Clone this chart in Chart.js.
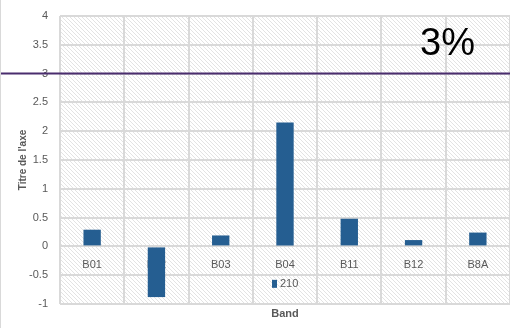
<!DOCTYPE html>
<html>
<head>
<meta charset="utf-8">
<script src="https://cdn.jsdelivr.net/npm/chart.js@4.4.1/dist/chart.umd.min.js"></script>
<style>
	html, body { margin: 0; padding: 0; background: #fff; }
	#wrap { position: relative; width: 510px; height: 328px; border-left: 1px solid #d9d9d9; box-sizing: border-box; }
</style>
</head>
<body>
<div id="wrap"><canvas id="bar-chart" width="509" height="328"></canvas></div>
<script>
// data
var bands = ['B01', 'B02', 'B03', 'B04', 'B11', 'B12', 'B8A'];
var values210 = [0.29, -0.88, 0.19, 2.15, 0.48, 0.11, 0.24];
var seriesName = '210';
var refValue = 3;
var refLabel = '3%';

var barColor = '#255e91';
var gridColor = '#d9d9d9';
var tickFont = { family: "'Liberation Sans Narrow', 'Liberation Sans', sans-serif", size: 11 };

// hatched plot background
function makeHatch() {
	var c = document.createElement('canvas');
	c.width = 4; c.height = 4;
	var g = c.getContext('2d');
	g.fillStyle = '#ffffff';
	g.fillRect(0, 0, 4, 4);
	g.strokeStyle = '#e3e3e3';
	g.lineWidth = 1;
	g.beginPath();
	g.moveTo(-1, -1); g.lineTo(5, 5);
	g.moveTo(-1, 3); g.lineTo(1, 5);
	g.moveTo(3, -1); g.lineTo(5, 1);
	g.stroke();
	return g.createPattern(c, 'repeat');
}

var hatchPlugin = {
	id: 'hatch',
	beforeDraw: function(chart) {
		var a = chart.chartArea, ctx = chart.ctx;
		ctx.save();
		ctx.fillStyle = makeHatch();
		ctx.fillRect(a.left, a.top, a.right - a.left, a.bottom - a.top);
		ctx.restore();
	}
};

var extrasPlugin = {
	id: 'extras',
	afterDraw: function(chart) {
		var ctx = chart.ctx, a = chart.chartArea;
		var y = chart.scales.y.getPixelForValue(refValue);
		ctx.save();
		// reference line across the whole picture
		ctx.strokeStyle = '#4a2d6e';
		ctx.lineWidth = 2;
		ctx.beginPath();
		ctx.moveTo(0, y);
		ctx.lineTo(chart.width, y);
		ctx.stroke();
		// label
		ctx.fillStyle = '#000';
		ctx.font = "38px 'Liberation Sans', Arial, sans-serif";
		ctx.textAlign = 'left';
		ctx.textBaseline = 'middle';
		ctx.fillText(refLabel, 419, 45);
		// legend inside plot
		var cx = (a.left + a.right) / 2;
		var ly = chart.scales.y.getPixelForValue(-0.65);
		ctx.fillStyle = barColor;
		ctx.fillRect(cx - 13, ly - 4, 5, 8);
		ctx.fillStyle = '#595959';
		ctx.font = "11px 'Liberation Sans Narrow', 'Liberation Sans', sans-serif";
		ctx.fillText(seriesName, cx - 5, ly);
		ctx.restore();
	}
};

new Chart(document.getElementById('bar-chart'), {
	type: 'bar',
	data: {
		labels: bands,
		datasets: [{
			label: seriesName,
			data: values210,
			backgroundColor: barColor,
			borderWidth: 0,
			categoryPercentage: 1,
			barPercentage: 0.27
		}]
	},
	options: {
		responsive: false,
		animation: false,
		layout: { padding: { left: 0, right: 0, top: 16, bottom: 0 } },
		plugins: {
			legend: { display: false },
			tooltip: { enabled: false }
		},
		scales: {
			x: {
				position: 'bottom',
				offset: true,
				grid: { color: gridColor, lineWidth: 2, offset: true, drawTicks: false },
				border: { display: false },
				ticks: { display: false },
				title: {
					display: true,
					text: 'Band',
					color: '#595959',
					font: { family: "'Liberation Sans Narrow', 'Liberation Sans', sans-serif", size: 11, weight: 'bold' },
					padding: { top: 4, bottom: 7 }
				},
				afterFit: function(s) { s.height = 24; s.paddingLeft = 0; s.paddingRight = 0; }
			},
			x2: {
				type: 'category',
				labels: bands,
				position: { y: 0 },
				offset: true,
				grid: { display: false, drawTicks: false },
				border: { display: false },
				ticks: { color: '#595959', font: tickFont, padding: 12, maxRotation: 0 },
				afterFit: function(s) {
					s.paddingTop = 0; s.paddingBottom = 0; s.paddingLeft = 0; s.paddingRight = 0;
				}
			},
			y: {
				min: -1,
				max: 4,
				ticks: {
					stepSize: 0.5,
					color: '#595959',
					font: tickFont,
					padding: 12,
					callback: function(v) { return String(v); }
				},
				grid: { color: gridColor, lineWidth: 2, drawTicks: false },
				border: { display: false },
				title: {
					display: true,
					text: "Titre de l'axe",
					color: '#595959',
					font: { family: "'Liberation Sans', sans-serif", size: 10, weight: 'bold' },
					padding: { top: 16, bottom: 0 }
				},
				afterFit: function(s) { s.width = 59; s.paddingTop = 0; s.paddingBottom = 0; }
			}
		}
	},
	plugins: [hatchPlugin, extrasPlugin]
});
</script>
</body>
</html>
